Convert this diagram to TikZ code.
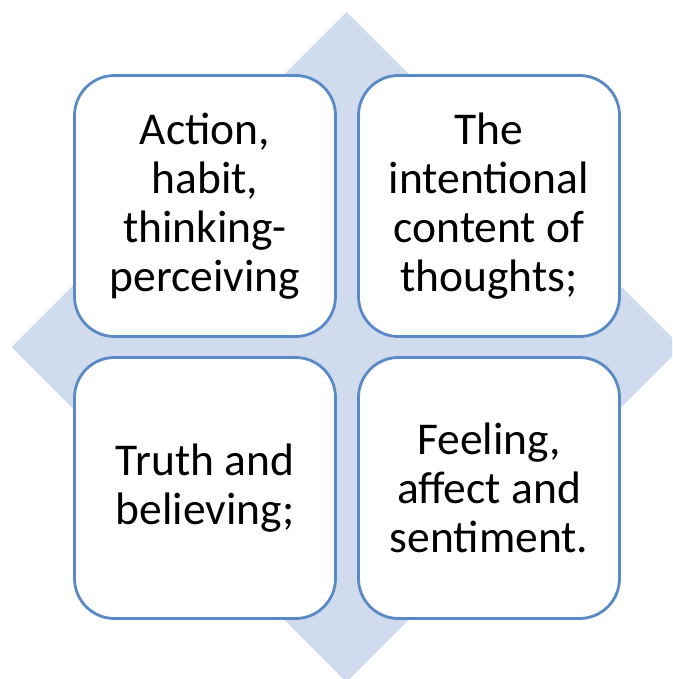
\documentclass[tikz,border=0pt]{standalone}
\usepackage{fontspec}
\setmainfont{Carlito}
\definecolor{kitefill}{HTML}{D0DBEE}
\definecolor{tileline}{HTML}{5A8AC6}
\tikzset{
  tile/.style={draw=tileline, line width=2.8pt, fill=white, rounded corners=40pt,
    minimum width=261pt, minimum height=261pt, align=center, inner sep=0pt,
    font=\fontsize{45.5pt}{49pt}\selectfont}
}
\begin{document}
\begin{tikzpicture}[x=1pt, y=-1pt]
\useasboundingbox (0,0) rectangle (672,679);
\clip (0,0) rectangle (672,679);
\fill[kitefill] (346.5,12) -- (681.5,347) -- (346.5,682) -- (11.5,347) -- cycle;
\node[tile] (quad0) at (205,206) {Action,\\habit,\\thinking-\\perceiving};
\node[tile] (quad1) at (489,206) {The\\intentional\\content of\\thoughts;};
\node[tile] (quad2) at (205,488) {Truth and\\believing;};
\node[tile] (quad3) at (489,488) {Feeling,\\affect and\\sentiment.};
\end{tikzpicture}
\end{document}
